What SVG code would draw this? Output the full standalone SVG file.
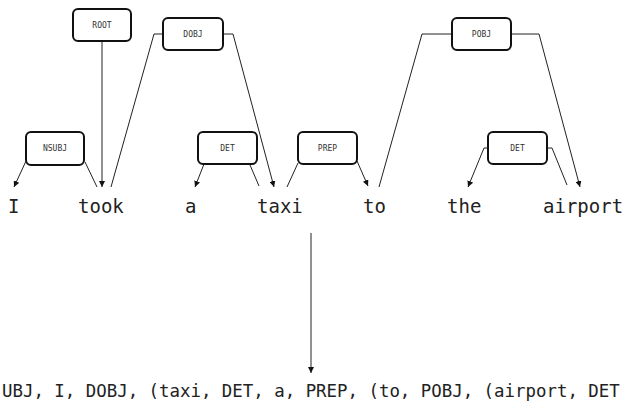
<svg xmlns="http://www.w3.org/2000/svg" width="625" height="408" viewBox="0 0 625 408">
<defs>
<marker id="ah" viewBox="0 0 10 10" refX="10" refY="5" markerWidth="6" markerHeight="6" orient="auto" markerUnits="userSpaceOnUse">
<path d="M0,0 L10,5 L0,10 z" fill="#111"/>
</marker>
<style>
.box{fill:#fff;stroke:#111;stroke-width:2}
.lbl{font-family:"DejaVu Sans Mono","Liberation Mono",monospace;font-size:8px;fill:#333;text-anchor:middle}
.word{font-family:"DejaVu Sans Mono","Liberation Mono",monospace;font-size:19px;fill:#222}
.out{font-family:"DejaVu Sans Mono","Liberation Mono",monospace;font-size:17.4px;fill:#222}
.ln{fill:none;stroke:#222;stroke-width:1}
.ar{fill:none;stroke:#222;stroke-width:1;marker-end:url(#ah)}
</style>
</defs>
<rect width="625" height="408" fill="#fff"/>
<g id="connectors">
<path class="ar" d="M102,41 L102,187"/>
<path class="ar" d="M26,161 L14,187"/>
<path class="ln" d="M85,162 L97,187"/>
<path class="ln" d="M163,34 L154,34 L111,187"/>
<path class="ar" d="M223,34 L233,34 L274,187"/>
<path class="ar" d="M204,164 L195,187"/>
<path class="ln" d="M250,165 L259,186"/>
<path class="ln" d="M298,163 L287,187"/>
<path class="ar" d="M357,161 L368,186"/>
<path class="ln" d="M452,34 L422,34 L379,187"/>
<path class="ar" d="M511,34 L539,34 L580,187"/>
<path class="ar" d="M488,148 L484,148 L468,187"/>
<path class="ln" d="M547,148 L552,148 L567,185"/>
<path class="ar" d="M311,233 L311,373"/>
</g>
<g id="root"><rect class="box" x="73" y="9" width="58" height="32" rx="5"/><text class="lbl" x="102" y="28">ROOT</text></g>
<g id="dobj"><rect class="box" x="163" y="18" width="60" height="32" rx="5"/><text class="lbl" x="193" y="37">DOBJ</text></g>
<g id="pobj"><rect class="box" x="452" y="18" width="59" height="32" rx="5"/><text class="lbl" x="481.5" y="37">POBJ</text></g>
<g id="nsubj"><rect class="box" x="26" y="132" width="58" height="33" rx="5"/><text class="lbl" x="55" y="151">NSUBJ</text></g>
<g id="det1"><rect class="box" x="198" y="132" width="59" height="32" rx="5"/><text class="lbl" x="227.5" y="151">DET</text></g>
<g id="prep"><rect class="box" x="298" y="132" width="59" height="32" rx="5"/><text class="lbl" x="327.5" y="151">PREP</text></g>
<g id="det2"><rect class="box" x="488" y="132" width="59" height="32" rx="5"/><text class="lbl" x="517.5" y="151">DET</text></g>
<g id="words">
<text class="word" x="8" y="213">I</text>
<text class="word" x="78" y="213">took</text>
<text class="word" x="185" y="213">a</text>
<text class="word" x="257" y="213">taxi</text>
<text class="word" x="363" y="213">to</text>
<text class="word" x="447" y="213">the</text>
<text class="word" x="543" y="213">airport</text>
</g>
<g id="output"><text class="out" x="2" y="397">UBJ, I, DOBJ, (taxi, DET, a, PREP, (to, POBJ, (airport, DET</text></g>
</svg>
